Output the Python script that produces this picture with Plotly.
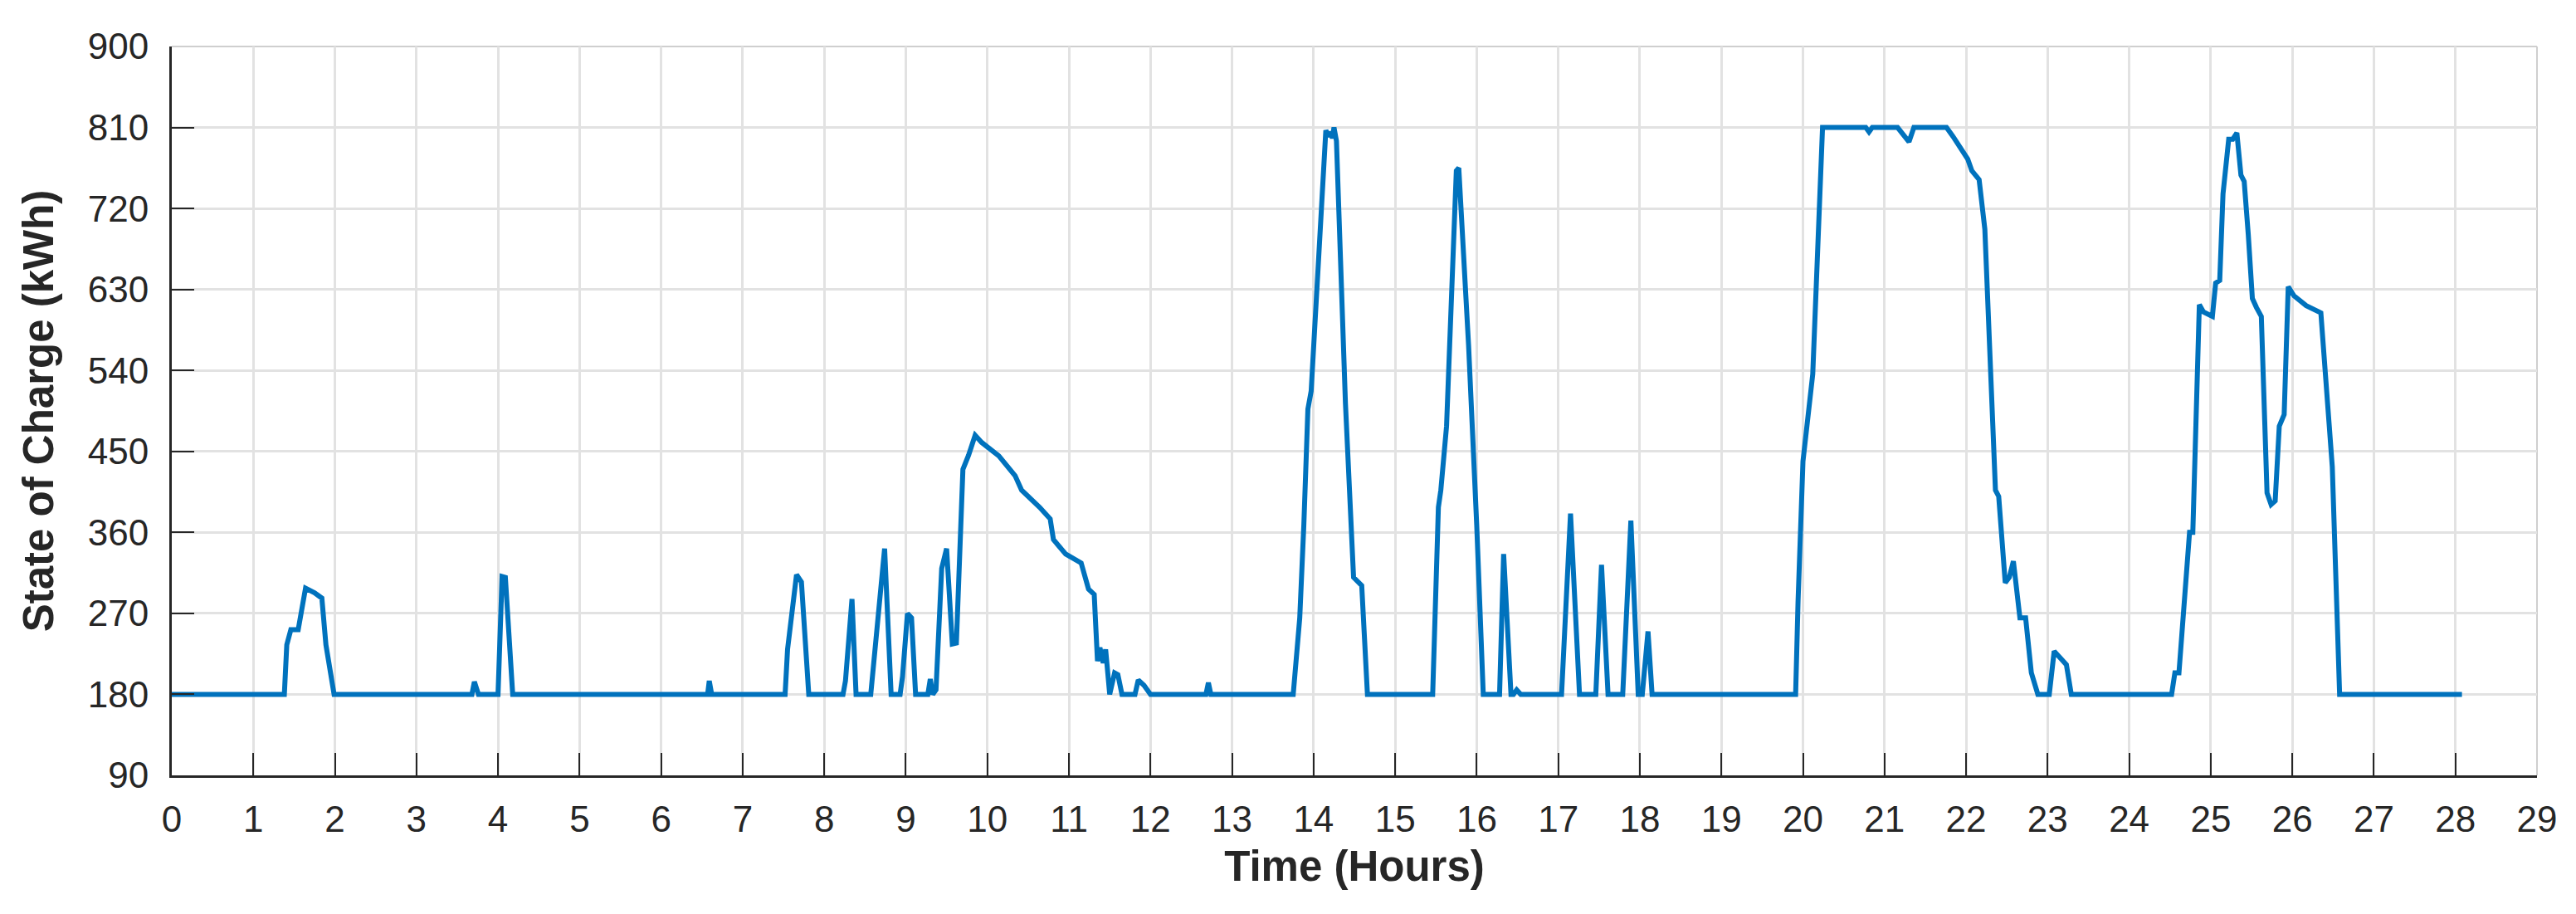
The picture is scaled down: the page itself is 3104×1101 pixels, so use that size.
import plotly.graph_objects as go

# Time (hours) and battery state of charge (kWh)
hours = [
    0.00, 1.38, 1.41, 1.46, 1.55, 1.64, 1.75, 1.84, 1.89, 1.94, 1.99,
    3.68, 3.71, 3.76,
    4.00, 4.05, 4.09, 4.18,
    6.57, 6.59, 6.62,
    7.52, 7.55, 7.66, 7.72, 7.81,
    8.23, 8.26, 8.34, 8.39,
    8.57, 8.74, 8.82, 8.93, 8.96, 9.02, 9.07, 9.12,
    9.27, 9.30, 9.33, 9.37, 9.44, 9.50, 9.57, 9.62, 9.70, 9.77, 9.85, 9.93,
    10.14, 10.34, 10.42, 10.64, 10.77, 10.81, 10.96, 11.15, 11.24, 11.31,
    11.35, 11.38, 11.42, 11.45, 11.50, 11.56, 11.60, 11.65, 11.81, 11.85, 11.92, 12.00,
    12.68, 12.71, 12.74,
    13.75, 13.83, 13.88, 13.93, 13.97, 14.04, 14.15, 14.18, 14.21, 14.23, 14.25, 14.28,
    14.32, 14.39, 14.49, 14.55, 14.59, 14.66,
    15.46, 15.53, 15.56, 15.63, 15.75, 15.78, 15.83, 15.90, 16.00, 16.08,
    16.28, 16.33, 16.42, 16.45, 16.49, 16.54,
    17.04, 17.15, 17.26,
    17.46, 17.53, 17.61,
    17.79, 17.89, 17.98, 18.03, 18.10, 18.15,
    19.91, 19.94, 20.00, 20.12, 20.24, 20.77, 20.81, 20.85, 21.16, 21.30, 21.36,
    21.76, 21.84, 21.95, 22.02, 22.07, 22.16, 22.23, 22.30, 22.36, 22.40, 22.48,
    22.53, 22.58, 22.66, 22.73, 22.80, 22.88, 23.02, 23.08, 23.23, 23.29,
    24.52, 24.56, 24.61, 24.69, 24.74, 24.78, 24.86, 24.91, 25.02, 25.06, 25.11,
    25.15, 25.22, 25.27, 25.32, 25.37, 25.41, 25.46, 25.51, 25.56, 25.62, 25.69,
    25.74, 25.79, 25.84, 25.90, 25.95, 26.02, 26.17, 26.35, 26.49, 26.58, 28.08,
]
soc_kwh = [
    180, 180, 235, 252, 252, 298, 293, 287, 235, 210, 180,
    180, 194, 180,
    180, 311, 310, 180,
    180, 195, 180,
    180, 230, 313, 305, 180,
    180, 195, 286, 180,
    180, 342, 180, 180, 200, 270, 265, 180,
    180, 197, 180, 185, 320, 342, 236, 237, 430, 446, 468, 460,
    445, 423, 407, 388, 375, 352, 336, 326, 297, 291,
    217, 232, 215, 230, 180, 204, 202, 180, 180, 196, 190, 180,
    180, 193, 180,
    180, 265, 368, 497, 517, 626, 807, 800, 805, 798, 810, 795,
    700, 504, 310, 305, 301, 180,
    180, 388, 407, 478, 762, 765, 691, 568, 368, 180,
    180, 336, 180, 180, 185, 180,
    180, 381, 180,
    180, 324, 180,
    180, 373, 180, 180, 250, 180,
    180, 284, 439, 536, 810, 810, 805, 810, 810, 794, 810,
    810, 800, 784, 775, 762, 752, 697, 536, 407, 400, 304,
    310, 328, 265, 265, 204, 180, 180, 228, 213, 180,
    180, 204, 204, 300, 360, 360, 613, 605, 600, 637, 640,
    736, 797, 797, 804, 757, 750, 691, 620, 610, 600, 404,
    391, 395, 478, 491, 633, 623, 612, 604, 433, 180, 180,
]

x_ticks = list(range(0, 30))
y_ticks = list(range(90, 901, 90))

FONT = "Liberation Sans, Arial, Helvetica, sans-serif"
AX = "#262626"
GRID = "#e2e2e2"

fig = go.Figure()
fig.add_trace(go.Scatter(
    x=hours, y=soc_kwh, mode="lines",
    line=dict(color="#0072BD", width=6),
    showlegend=False, hoverinfo="skip",
))

fig.update_layout(
    width=3104, height=1101,
    margin=dict(l=207, r=47, t=56, b=167),
    paper_bgcolor="white", plot_bgcolor="white",
    font=dict(family=FONT, color=AX, size=44),
    shapes=[
        dict(type="line", xref="paper", yref="paper", x0=0, x1=1, y0=1, y1=1,
             line=dict(color="#cfcfcf", width=2), layer="below"),
        dict(type="line", xref="paper", yref="paper", x0=1, x1=1, y0=0, y1=1,
             line=dict(color="#cfcfcf", width=2), layer="below"),
    ],
)
fig.update_xaxes(
    range=[0, 29], tickvals=x_ticks, ticktext=[str(v) for v in x_ticks],
    ticks="inside", ticklen=27, tickwidth=2, tickcolor=AX,
    showline=True, linecolor=AX, linewidth=3,
    showgrid=True, gridcolor=GRID, gridwidth=3, zeroline=False,
    tickfont=dict(size=44, color=AX), ticklabelstandoff=12,
    title=dict(text="<b>Time (Hours)</b>", font=dict(size=51, color=AX), standoff=16),
)
fig.update_yaxes(
    range=[90, 900], tickvals=y_ticks, ticktext=[str(v) for v in y_ticks],
    ticks="inside", ticklen=27, tickwidth=2, tickcolor=AX,
    showline=True, linecolor=AX, linewidth=3,
    showgrid=True, gridcolor=GRID, gridwidth=3, zeroline=False,
    tickfont=dict(size=44, color=AX), ticklabelstandoff=16,
    title=dict(text="<b>State of Charge (kWh)</b>", font=dict(size=51, color=AX), standoff=25),
)

fig.write_html(
    "out.html",
    config={"displayModeBar": False},
    post_script="document.body.style.margin='0';",
)
